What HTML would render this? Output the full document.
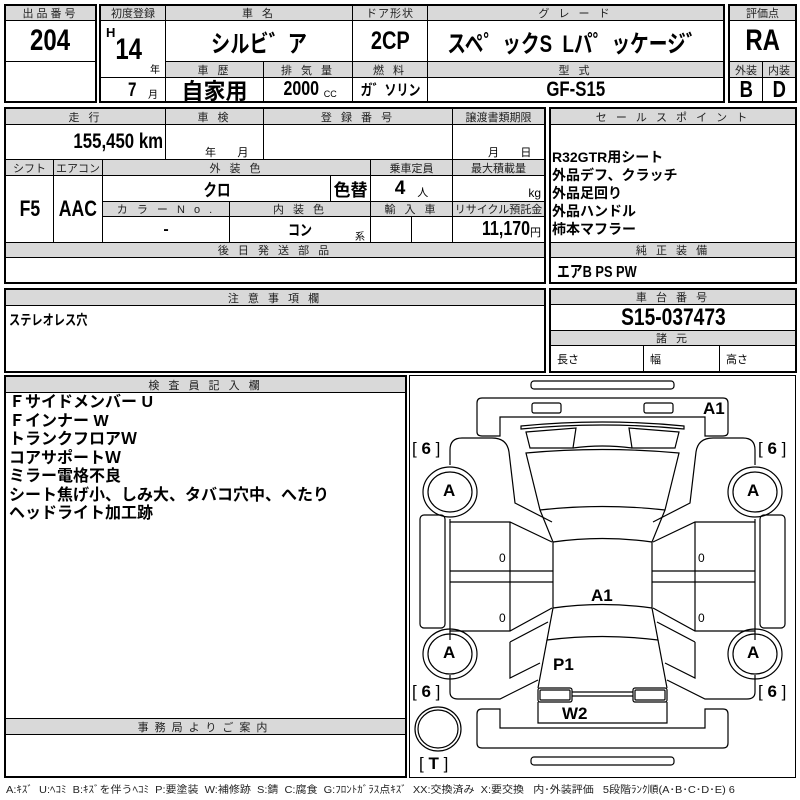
<!DOCTYPE html>
<html><head><meta charset="utf-8"><style>
*{margin:0;padding:0;box-sizing:border-box}
body{width:800px;height:800px;background:#fff;position:relative;overflow:hidden;font-family:"Liberation Sans","Noto Sans CJK JP",sans-serif;color:#000}
.c{position:absolute;border:1px solid #000;display:flex;align-items:center;justify-content:center;white-space:nowrap}
.h{background:#d9d9d9;font-size:11px;letter-spacing:3px;color:#222}
.o{position:absolute;border:2px solid #000}
.b{font-family:"Liberation Sans Narrow","Liberation Sans","Noto Sans CJK JP",sans-serif;font-weight:bold}
.n{display:inline-block;transform:scaleX(.8)}
.t{position:absolute;white-space:nowrap}
</style></head><body>
<!-- box 1 -->
<div class="c h" style="left:5px;top:5px;width:91px;height:16px">出品番号</div>
<div class="c b" style="left:5px;top:20px;width:91px;height:42px;font-size:30px"><span class="n">204</span></div>
<div class="c" style="left:5px;top:61px;width:91px;height:41px"></div>
<div class="o" style="left:4px;top:4px;width:93px;height:99px"></div>
<!-- box 2 -->
<div class="c h" style="left:100px;top:5px;width:66px;height:16px;letter-spacing:0">初度登録</div>
<div class="c h" style="left:165px;top:5px;width:188px;height:16px">車 名</div>
<div class="c h" style="left:352px;top:5px;width:76px;height:16px;letter-spacing:1px">ドア形状</div>
<div class="c h" style="left:427px;top:5px;width:297px;height:16px">グ レ ー ド</div>
<div class="c" style="left:100px;top:20px;width:66px;height:58px"></div>
<div class="t b" style="left:106px;top:25px;font-size:13px">H</div>
<div class="t b" style="left:112px;top:33px;font-size:30px"><span class="n">14</span></div>
<div class="t" style="left:150px;top:61px;font-size:10px">年</div>
<div class="c" style="left:100px;top:77px;width:66px;height:25px"></div>
<div class="t b" style="left:127px;top:80px;font-size:19px"><span class="n">7</span></div>
<div class="t" style="left:148px;top:86px;font-size:10px">月</div>
<div class="c b" style="left:165px;top:20px;width:188px;height:42px;font-size:24px"><span class="n">シルビ゛ア</span></div>
<div class="c b" style="left:352px;top:20px;width:76px;height:42px;font-size:25px"><span class="n">2CP</span></div>
<div class="c b" style="left:427px;top:20px;width:297px;height:42px;font-size:24px"><span class="n" style="transform:scaleX(.78)">スペ゜ックS&nbsp;&nbsp;Lパ゜ッケージ゛</span></div>
<div class="c h" style="left:165px;top:61px;width:99px;height:17px">車 歴</div>
<div class="c h" style="left:263px;top:61px;width:90px;height:17px">排 気 量</div>
<div class="c h" style="left:352px;top:61px;width:76px;height:17px">燃 料</div>
<div class="c h" style="left:427px;top:61px;width:297px;height:17px">型 式</div>
<div class="c b" style="left:165px;top:77px;width:99px;height:25px;font-size:22px">自家用</div>
<div class="c" style="left:263px;top:77px;width:90px;height:25px"><span class="b n" style="font-size:20px">2000</span><span style="font-size:9px;margin-top:8px">CC</span></div>
<div class="c b" style="left:352px;top:77px;width:76px;height:25px;font-size:15px"><span class="n">ガ゛ソリン</span></div>
<div class="c b" style="left:427px;top:77px;width:297px;height:25px;font-size:21px"><span class="n">GF-S15</span></div>
<div class="o" style="left:99px;top:4px;width:626px;height:99px"></div>
<!-- box 3 -->
<div class="c h" style="left:729px;top:5px;width:67px;height:16px;letter-spacing:0">評価点</div>
<div class="c b" style="left:729px;top:20px;width:67px;height:42px;font-size:30px"><span class="n">RA</span></div>
<div class="c h" style="left:729px;top:61px;width:34px;height:17px;letter-spacing:0">外装</div>
<div class="c h" style="left:762px;top:61px;width:34px;height:17px;letter-spacing:0">内装</div>
<div class="c b" style="left:729px;top:77px;width:34px;height:25px;font-size:23px"><span class="n">B</span></div>
<div class="c b" style="left:762px;top:77px;width:34px;height:25px;font-size:23px"><span class="n">D</span></div>
<div class="o" style="left:728px;top:4px;width:69px;height:99px"></div>
<!-- block 2 -->
<div class="c h" style="left:5px;top:108px;width:161px;height:17px">走 行</div>
<div class="c h" style="left:165px;top:108px;width:99px;height:17px">車 検</div>
<div class="c h" style="left:263px;top:108px;width:190px;height:17px">登 録 番 号</div>
<div class="c h" style="left:452px;top:108px;width:93px;height:17px;letter-spacing:0">譲渡書類期限</div>
<div class="c" style="left:5px;top:124px;width:161px;height:36px;justify-content:flex-end;padding-right:2px"><span class="b n" style="font-size:21px;transform-origin:right">155,450 km</span></div>
<div class="c" style="left:165px;top:124px;width:99px;height:36px"></div>
<div class="t" style="left:205px;top:144px;font-size:11px">年&nbsp;&nbsp;&nbsp;&nbsp;&nbsp;&nbsp;&nbsp;月</div>
<div class="c" style="left:263px;top:124px;width:190px;height:36px"></div>
<div class="c" style="left:452px;top:124px;width:93px;height:36px"></div>
<div class="t" style="left:488px;top:144px;font-size:11px">月&nbsp;&nbsp;&nbsp;&nbsp;&nbsp;&nbsp;&nbsp;日</div>
<div class="c h" style="left:5px;top:159px;width:49px;height:17px;letter-spacing:0">シフト</div>
<div class="c h" style="left:53px;top:159px;width:50px;height:17px;letter-spacing:0">エアコン</div>
<div class="c h" style="left:102px;top:159px;width:269px;height:17px">外 装 色</div>
<div class="c h" style="left:370px;top:159px;width:83px;height:17px;letter-spacing:0">乗車定員</div>
<div class="c h" style="left:452px;top:159px;width:93px;height:17px;letter-spacing:0">最大積載量</div>
<div class="c b" style="left:5px;top:175px;width:49px;height:68px;font-size:22px"><span class="n">F5</span></div>
<div class="c b" style="left:53px;top:175px;width:50px;height:68px;font-size:22px"><span class="n">AAC</span></div>
<div class="c b" style="left:102px;top:175px;width:229px;height:27px;font-size:17px"><span class="n">クロ</span></div>
<div class="c b" style="left:330px;top:175px;width:41px;height:27px;font-size:17px">色替</div>
<div class="c" style="left:370px;top:175px;width:83px;height:27px"><span class="b" style="font-size:19px">4</span><span style="font-size:11px;margin-left:12px;margin-top:6px">人</span></div>
<div class="c" style="left:452px;top:175px;width:93px;height:27px;justify-content:flex-end;padding-right:3px;font-size:12px;padding-top:8px">kg</div>
<div class="c h" style="left:102px;top:201px;width:128px;height:16px">カ ラ ー N o .</div>
<div class="c h" style="left:229px;top:201px;width:142px;height:16px">内 装 色</div>
<div class="c h" style="left:370px;top:201px;width:83px;height:16px">輸 入 車</div>
<div class="c h" style="left:452px;top:201px;width:93px;height:16px;letter-spacing:0">リサイクル預託金</div>
<div class="c b" style="left:102px;top:216px;width:128px;height:27px;font-size:16px">-</div>
<div class="c b" style="left:229px;top:216px;width:142px;height:27px;font-size:15px"><span class="n">コン</span></div>
<div class="t" style="left:355px;top:228px;font-size:10px">系</div>
<div class="c" style="left:370px;top:216px;width:42px;height:27px"></div>
<div class="c" style="left:411px;top:216px;width:42px;height:27px"></div>
<div class="c" style="left:452px;top:216px;width:93px;height:27px;justify-content:flex-end;padding-right:3px"><span class="b n" style="font-size:20px;transform-origin:right">11,170</span><span style="font-size:11px;margin-top:4px">円</span></div>
<div class="c h" style="left:5px;top:242px;width:540px;height:16px">後 日 発 送 部 品</div>
<div class="c" style="left:5px;top:257px;width:540px;height:26px"></div>
<div class="o" style="left:4px;top:107px;width:542px;height:177px"></div>
<!-- sales -->
<div class="c h" style="left:550px;top:108px;width:246px;height:17px">セ ー ル ス ポ イ ン ト</div>
<div class="c" style="left:550px;top:124px;width:246px;height:119px"></div>
<div class="t b" style="left:552px;top:148px;font-size:14px;line-height:18px">R32GTR用シート<br>外品デフ、クラッチ<br>外品足回り<br>外品ハンドル<br>柿本マフラー</div>
<div class="c h" style="left:550px;top:242px;width:246px;height:16px">純 正 装 備</div>
<div class="c" style="left:550px;top:257px;width:246px;height:26px;justify-content:flex-start;padding-left:6px"><span class="b n" style="font-size:16px;transform-origin:left">エアB PS PW</span></div>
<div class="o" style="left:549px;top:107px;width:248px;height:177px"></div>
<!-- notes -->
<div class="c h" style="left:5px;top:289px;width:540px;height:17px">注 意 事 項 欄</div>
<div class="c" style="left:5px;top:305px;width:540px;height:67px"></div>
<div class="t b" style="left:9px;top:310px;font-size:14px"><span class="n" style="transform-origin:left">ステレオレス穴</span></div>
<div class="o" style="left:4px;top:288px;width:542px;height:85px"></div>
<div class="c h" style="left:550px;top:289px;width:246px;height:16px">車 台 番 号</div>
<div class="c b" style="left:550px;top:304px;width:246px;height:27px;font-size:24px"><span class="n">S15-037473</span></div>
<div class="c h" style="left:550px;top:330px;width:246px;height:16px">諸 元</div>
<div class="c" style="left:550px;top:345px;width:94px;height:27px;justify-content:flex-start;padding-left:6px;font-size:11px">長さ</div>
<div class="c" style="left:643px;top:345px;width:77px;height:27px;justify-content:flex-start;padding-left:6px;font-size:11px">幅</div>
<div class="c" style="left:719px;top:345px;width:77px;height:27px;justify-content:flex-start;padding-left:6px;font-size:11px">高さ</div>
<div class="o" style="left:549px;top:288px;width:248px;height:85px"></div>
<!-- inspector -->
<div class="c h" style="left:5px;top:376px;width:401px;height:17px">検 査 員 記 入 欄</div>
<div class="c" style="left:5px;top:392px;width:401px;height:327px"></div>
<div class="t" style="left:9px;top:394px;font-size:16px;line-height:18.5px;font-weight:bold">Ｆサイドメンバー U<br>Ｆインナー W<br>トランクフロアＷ<br>コアサポートＷ<br>ミラー電格不良<br>シート焦げ小、しみ大、タバコ穴中、へたり<br>ヘッドライト加工跡</div>
<div class="c h" style="left:5px;top:718px;width:401px;height:17px;letter-spacing:6px">事務局よりご案内</div>
<div class="c" style="left:5px;top:734px;width:401px;height:43px"></div>
<div class="o" style="left:4px;top:375px;width:403px;height:403px"></div>
<!-- diagram -->
<div class="o" style="left:409px;top:375px;width:387px;height:403px;border-width:1.5px"></div>
<svg style="position:absolute;left:0;top:0" width="800" height="800" viewBox="0 0 800 800" fill="none" stroke="#000" stroke-width="1.2">
<rect x="531" y="381" width="143" height="8" rx="3"/>
<path d="M482,398 H723 Q728,398 728,403 V432 Q728,436 723,436 H705 V417 H500 V436 H482 Q477,436 477,432 V403 Q477,398 482,398Z"/>
<rect x="532" y="403" width="29" height="10" rx="2"/>
<rect x="644" y="403" width="29" height="10" rx="2"/>
<path d="M521,426 Q602,418 684,426 L684,429 Q602,421 521,429Z"/>
<path d="M526,432 L576,428 L573,448 L530,448Z"/>
<path d="M679,432 L629,428 L632,448 L675,448Z"/>
<path d="M573,448 Q602,444 632,448"/>
<path d="M526,453 Q602,446 679,453 L665,510 Q602,503 540,510Z"/>
<path d="M540,510 L553,542 Q602,535 652,542 L665,510"/>
<path d="M553,542 V608 Q602,601 652,608 V542"/>
<path d="M553,608 L547,640 Q602,633 658,640 L652,608"/>
<path d="M547,640 L538,688 M658,640 L667,688"/>
<rect x="538" y="688" width="34" height="14" rx="2"/>
<rect x="540" y="690" width="30" height="10" rx="1"/>
<rect x="633" y="688" width="34" height="14" rx="2"/>
<rect x="635" y="690" width="30" height="10" rx="1"/>
<path d="M572,692 H633 M572,696 H633"/>
<path d="M538,702 V723 H667 V702"/>
<path d="M482,709 H500 V728 H705 V709 H723 Q728,709 728,714 V743 Q728,748 723,748 H482 Q477,748 477,743 V714 Q477,709 482,709Z"/>
<rect x="531" y="757" width="143" height="8" rx="3"/>
<g id="L">
<path d="M450,465 V450 Q450,438 462,438 H492 Q507,438 509,452 L515,503 L552,522"/>
<path d="M450,519 V522 H510 L552,542"/>
<path d="M510,522 V631 M450,571 H553 M450,582 H553"/>
<path d="M450,522 V631 H510 L552,608"/>
<path d="M450,631 V640"/>
<path d="M510,642 L548,622 M510,642 V678 L540,663"/>
<path d="M450,675 V692 Q450,699 458,699 H500 L538,680"/>
<rect x="420" y="515" width="25" height="113" rx="4"/>
<ellipse cx="450" cy="492" rx="27" ry="25"/>
<ellipse cx="450" cy="492" rx="22" ry="20"/>
<ellipse cx="450" cy="654" rx="27" ry="25"/>
<ellipse cx="450" cy="654" rx="22" ry="20"/>
</g>
<use href="#L" transform="translate(1205,0) scale(-1,1)"/>
<ellipse cx="438" cy="729" rx="23" ry="22"/>
<ellipse cx="438" cy="729" rx="20" ry="19"/>
</svg>
<div class="t" style="left:412px;top:439px;font-size:17px">[ <b>6</b> ]</div>
<div class="t" style="left:758px;top:439px;font-size:17px">[ <b>6</b> ]</div>
<div class="t" style="left:412px;top:682px;font-size:17px">[ <b>6</b> ]</div>
<div class="t" style="left:758px;top:682px;font-size:17px">[ <b>6</b> ]</div>
<div class="t" style="left:419px;top:754px;font-size:17px">[ <b>T</b> ]</div>
<div class="t b" style="left:443px;top:481px;font-size:17px">A</div>
<div class="t b" style="left:443px;top:643px;font-size:17px">A</div>
<div class="t b" style="left:747px;top:481px;font-size:17px">A</div>
<div class="t b" style="left:747px;top:643px;font-size:17px">A</div>
<div class="t b" style="left:703px;top:399px;font-size:17px">A1</div>
<div class="t b" style="left:591px;top:586px;font-size:17px">A1</div>
<div class="t b" style="left:553px;top:655px;font-size:17px">P1</div>
<div class="t b" style="left:562px;top:704px;font-size:17px">W2</div>
<div class="t" style="left:499px;top:551px;font-size:12px">0</div>
<div class="t" style="left:499px;top:611px;font-size:12px">0</div>
<div class="t" style="left:698px;top:551px;font-size:12px">0</div>
<div class="t" style="left:698px;top:611px;font-size:12px">0</div>
<div class="t" style="left:6px;top:781px;font-size:10px;color:#222;transform:scaleX(1.1);transform-origin:left">A:ｷｽﾞ&nbsp; U:ﾍｺﾐ&nbsp; B:ｷｽﾞを伴うﾍｺﾐ&nbsp; P:要塗装&nbsp; W:補修跡&nbsp; S:錆&nbsp; C:腐食&nbsp; G:ﾌﾛﾝﾄｶﾞﾗｽ点ｷｽﾞ&nbsp; XX:交換済み&nbsp; X:要交換&nbsp;&nbsp; 内･外装評価&nbsp;&nbsp; 5段階ﾗﾝｸ順(A･B･C･D･E) 6</div>
</body></html>
